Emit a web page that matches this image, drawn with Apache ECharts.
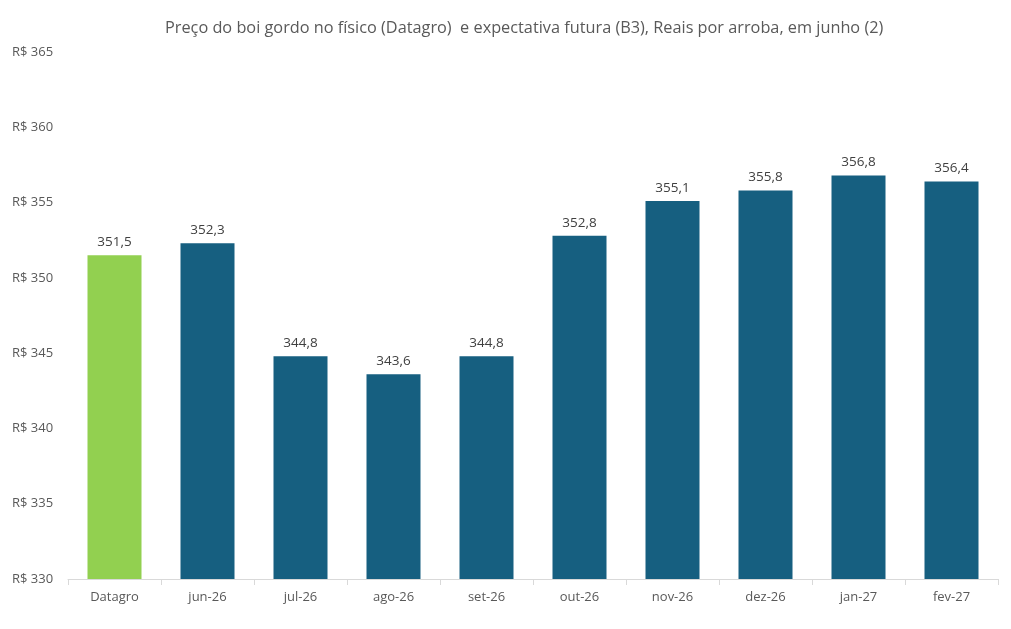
<!DOCTYPE html>
<html>
<head>
<meta charset="utf-8">
<script src="https://cdn.jsdelivr.net/npm/echarts@6/dist/echarts.min.js"></script>
<style>
  html, body { margin: 0; padding: 0; background: #fff; }
  #main { width: 1011px; height: 629px; }
</style>
</head>
<body>
<div id="main"></div>
<script>
var categories = ['Datagro', 'jun-26', 'jul-26', 'ago-26', 'set-26', 'out-26', 'nov-26', 'dez-26', 'jan-27', 'fev-27'];
var values = [351.5, 352.3, 344.8, 343.6, 344.8, 352.8, 355.1, 355.8, 356.8, 356.4];
var barColors = ['#92d050', '#165f80', '#165f80', '#165f80', '#165f80', '#165f80', '#165f80', '#165f80', '#165f80', '#165f80'];

var chart = echarts.init(document.getElementById('main'));
var font = '"Open Sans", "Noto Sans", sans-serif';

chart.setOption({
    animation: false,
    title: {
        text: 'Preço do boi gordo no físico (Datagro)  e expectativa futura (B3), Reais por arroba, em junho (2)',
        left: 160, top: 15,
        textStyle: { fontFamily: font, fontSize: 16.3, fontWeight: 'normal', color: '#595959' }
    },
    grid: { left: 68, right: 13, top: 52, bottom: 50 },
    xAxis: {
        type: 'category',
        data: categories,
        axisLine: { lineStyle: { color: '#d9d9d9', width: 1 } },
        axisTick: { show: true, length: 6, lineStyle: { color: '#d9d9d9' } },
        axisLabel: { fontFamily: font, fontSize: 13, color: '#595959', margin: 12 }
    },
    yAxis: {
        type: 'value',
        min: 330, max: 365, interval: 5,
        splitLine: { show: false },
        axisLine: { show: false },
        axisTick: { show: false },
        axisLabel: {
            fontFamily: font, fontSize: 13, color: '#595959',
            align: 'left', margin: 56,
            formatter: function (v) { return 'R$ ' + v; }
        }
    },
    series: [{
        type: 'bar',
        barWidth: 54,
        data: values.map(function (v, i) {
            return { value: v, itemStyle: { color: barColors[i] } };
        }),
        label: {
            show: true, position: 'top', distance: 6,
            fontFamily: font, fontSize: 13.5, color: '#404040',
            formatter: function (p) { return p.value.toFixed(1).replace('.', ','); }
        }
    }]
});
</script>
</body>
</html>
